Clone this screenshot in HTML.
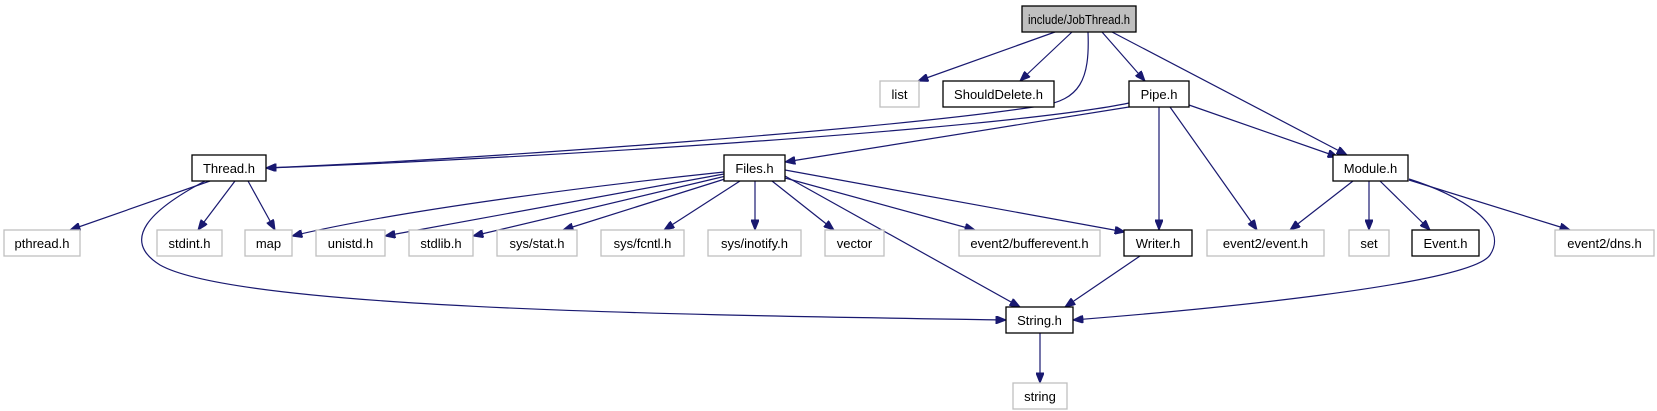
<!DOCTYPE html>
<html><head><meta charset="utf-8"><style>
html,body{margin:0;padding:0;background:#fff;}
svg{display:block;}
text{font-family:"Liberation Sans",sans-serif;font-size:13px;text-anchor:middle;fill:#000;}
.g{fill:#fff;stroke:#bfbfbf;stroke-width:1.3;}
.b{fill:#fff;stroke:#000;stroke-width:1.3;}
.e{fill:none;stroke:#191970;stroke-width:1.2;marker-end:url(#a);}
</style></head><body>
<svg width="1657" height="411" viewBox="0 0 1657 411" xmlns="http://www.w3.org/2000/svg">
<defs><marker id="a" viewBox="0 0 10 8" refX="10" refY="4" markerWidth="11" markerHeight="8" markerUnits="userSpaceOnUse" orient="auto"><path d="M0,0L10,4L0,8z" fill="#191970" stroke="#191970"/></marker></defs>
<path class="e" d="M1055,32L918,81"/>
<path class="e" d="M1072,32L1020,81"/>
<path class="e" d="M1088,32C1090,80 1080,100 1040,106C900,128 500,158 266,168"/>
<path class="e" d="M1102,32L1145,81"/>
<path class="e" d="M1112,32L1347,155"/>
<path class="e" d="M1129,103C1000,130 500,160 266,168"/>
<path class="e" d="M1129,107L785,162"/>
<path class="e" d="M1189,105L1338,157"/>
<path class="e" d="M1159,107L1159,230"/>
<path class="e" d="M1170,107L1257,230"/>
<path class="e" d="M210,181L70,230"/>
<path class="e" d="M235,181L198,230"/>
<path class="e" d="M248,181L275,230"/>
<path class="e" d="M205,181C150,210 120,240 160,265C240,310 700,315 1006,320"/>
<path class="e" d="M724,172C600,185 400,210 292,236"/>
<path class="e" d="M724,174L385,236"/>
<path class="e" d="M726,176L473,236"/>
<path class="e" d="M728,178L563,230"/>
<path class="e" d="M740,181L664,230"/>
<path class="e" d="M755,181L755,230"/>
<path class="e" d="M772,181L834,230"/>
<path class="e" d="M785,178L975,230"/>
<path class="e" d="M785,170L1125,232"/>
<path class="e" d="M785,176L1020,307"/>
<path class="e" d="M1140,256L1065,307"/>
<path class="e" d="M1040,333L1040,383"/>
<path class="e" d="M1353,181L1290,230"/>
<path class="e" d="M1369,181L1369,230"/>
<path class="e" d="M1380,181L1430,230"/>
<path class="e" d="M1409,180L1570,230"/>
<path class="e" d="M1409,179C1460,195 1510,225 1490,255C1470,285 1200,310 1073,320"/>
<rect x="1022" y="6" width="114" height="26" fill="#bfbfbf" stroke="#000" stroke-width="1.3"/><text x="1079" y="24" textLength="102" lengthAdjust="spacingAndGlyphs">include/JobThread.h</text>
<rect class="g" x="880" y="81" width="39" height="26"/><text x="899.5" y="99">list</text>
<rect class="b" x="943" y="81" width="111" height="26"/><text x="998.5" y="99">ShouldDelete.h</text>
<rect class="b" x="1129" y="81" width="60" height="26"/><text x="1159" y="99">Pipe.h</text>
<rect class="b" x="192" y="155" width="74" height="26"/><text x="229" y="173">Thread.h</text>
<rect class="b" x="724" y="155" width="61" height="26"/><text x="754.5" y="173">Files.h</text>
<rect class="b" x="1333" y="155" width="75" height="26"/><text x="1370.5" y="173">Module.h</text>
<rect class="g" x="4" y="230" width="76" height="26"/><text x="42" y="248">pthread.h</text>
<rect class="g" x="157" y="230" width="65" height="26"/><text x="189.5" y="248">stdint.h</text>
<rect class="g" x="245" y="230" width="47" height="26"/><text x="268.5" y="248">map</text>
<rect class="g" x="316" y="230" width="69" height="26"/><text x="350.5" y="248">unistd.h</text>
<rect class="g" x="409" y="230" width="64" height="26"/><text x="441" y="248">stdlib.h</text>
<rect class="g" x="497" y="230" width="80" height="26"/><text x="537" y="248">sys/stat.h</text>
<rect class="g" x="601" y="230" width="83" height="26"/><text x="642.5" y="248">sys/fcntl.h</text>
<rect class="g" x="708" y="230" width="93" height="26"/><text x="754.5" y="248">sys/inotify.h</text>
<rect class="g" x="825" y="230" width="59" height="26"/><text x="854.5" y="248">vector</text>
<rect class="g" x="959" y="230" width="141" height="26"/><text x="1029.5" y="248">event2/bufferevent.h</text>
<rect class="b" x="1124" y="230" width="68" height="26"/><text x="1158" y="248">Writer.h</text>
<rect class="g" x="1207" y="230" width="117" height="26"/><text x="1265.5" y="248">event2/event.h</text>
<rect class="g" x="1349" y="230" width="40" height="26"/><text x="1369" y="248">set</text>
<rect class="b" x="1412" y="230" width="67" height="26"/><text x="1445.5" y="248">Event.h</text>
<rect class="g" x="1555" y="230" width="99" height="26"/><text x="1604.5" y="248">event2/dns.h</text>
<rect class="b" x="1006" y="307" width="67" height="26"/><text x="1039.5" y="325">String.h</text>
<rect class="g" x="1013" y="383" width="54" height="26"/><text x="1040" y="401">string</text>
</svg>
</body></html>
